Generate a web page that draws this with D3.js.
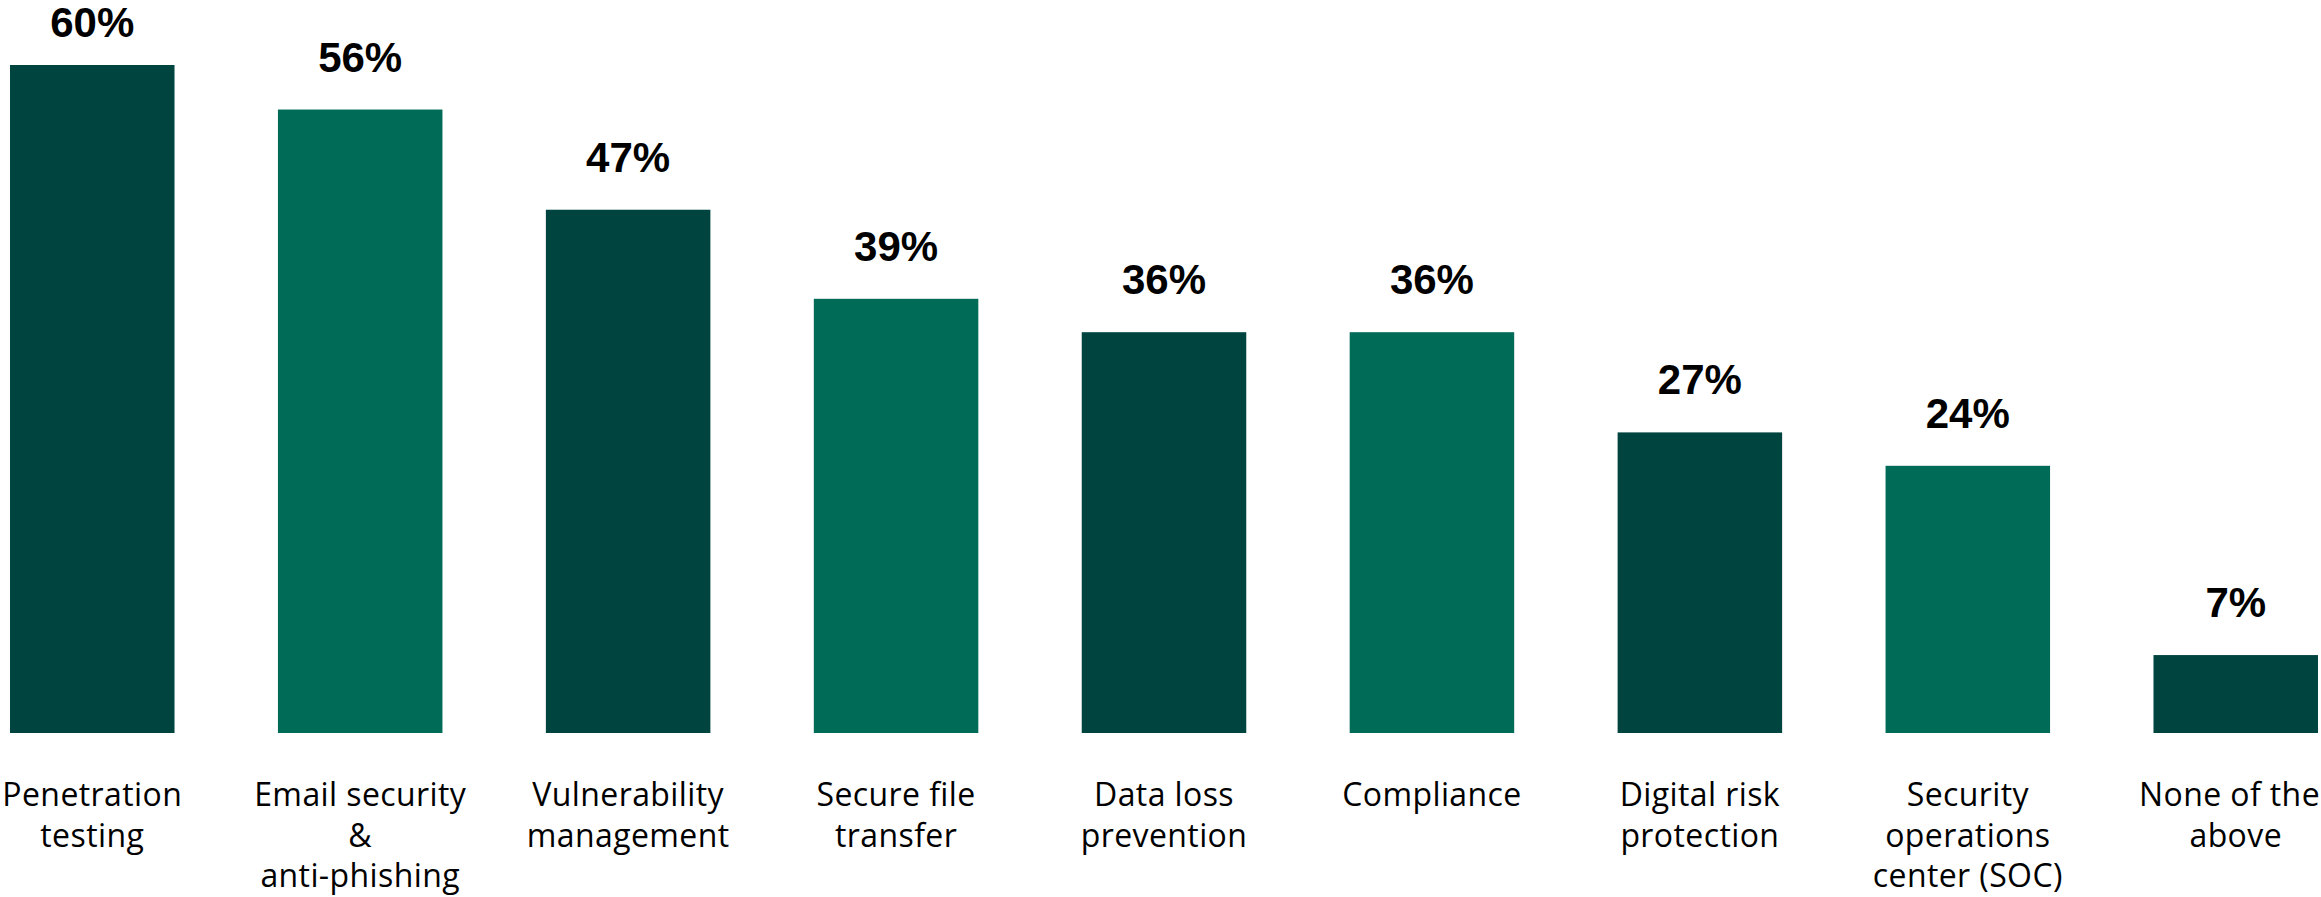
<!DOCTYPE html>
<html><head><meta charset="utf-8">
<script src="https://cdn.jsdelivr.net/npm/d3@7"></script>
<style>html,body{margin:0;padding:0;background:#fff;overflow:hidden}</style>
</head><body><svg id="chart" width="2321" height="897"></svg>
<script>
const categories = [
  ["Penetration","testing"],
  ["Email security","&","anti-phishing"],
  ["Vulnerability","management"],
  ["Secure file","transfer"],
  ["Data loss","prevention"],
  ["Compliance"],
  ["Digital risk","protection"],
  ["Security","operations","center (SOC)"],
  ["None of the","above"]
];
const values = [60, 56, 47, 39, 36, 36, 27, 24, 7];
const colors = ["#004440", "#006b56"];

const W = 2321;
const svg = d3.select("#chart");
const keys = categories.map(c => c.join(" "));
const x = d3.scaleBand().domain(keys).range([10, 2318]).paddingInner(0.386).paddingOuter(0);
const y = d3.scaleLinear().domain([0, 60]).range([733, 65]);

const data = keys.map((k, i) => ({k, lines: categories[i], v: values[i], i}));

svg.selectAll("rect.bar").data(data).join("rect")
  .attr("class","bar")
  .attr("x", d => x(d.k)).attr("width", x.bandwidth())
  .attr("y", d => y(d.v)).attr("height", d => y(0) - y(d.v))
  .attr("fill", d => colors[d.i % 2]);

svg.selectAll("text.val").data(data).join("text")
  .attr("class","val")
  .attr("x", d => x(d.k) + x.bandwidth()/2)
  .attr("y", d => Math.max(y(d.v) - 38, 37))
  .attr("text-anchor","middle")
  .attr("font-family","Liberation Sans, Arial, sans-serif")
  .attr("font-weight","bold").attr("font-size", 42).attr("fill","#000")
  .text(d => d.v + "%");

const lab = svg.selectAll("text.cat").data(data).join("text")
  .attr("class","cat")
  .attr("text-anchor","middle")
  .attr("font-family","Open Sans, sans-serif")
  .attr("font-size", 32).attr("letter-spacing", "0.4px").attr("fill","#000")
  .attr("transform", d => `translate(${x(d.k) + x.bandwidth()/2},806)`);
lab.each(function(d) {
  const cx = x(d.k) + x.bandwidth()/2;
  d3.select(this).selectAll("tspan").data(d.lines).join("tspan")
    .attr("x", 0).attr("y", (s, j) => j * 40.5).text(s => s)
    .attr("x", function() {
      const w = this.getComputedTextLength();
      let dx = 0;
      if (cx + w/2 > W - 1) dx = (W - 1) - (cx + w/2);
      if (cx - w/2 + dx < 1) dx = 1 - (cx - w/2);
      return dx;
    });
});
</script></body></html>
